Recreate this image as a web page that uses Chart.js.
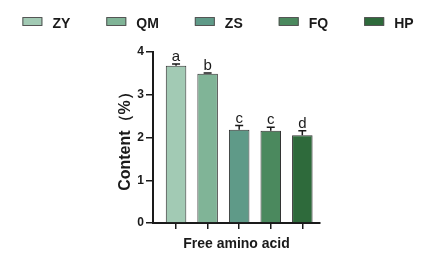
<!DOCTYPE html>
<html>
<head>
<meta charset="utf-8">
<script src="https://cdn.jsdelivr.net/npm/chart.js@4.4.1/dist/chart.umd.min.js"></script>
<style>
  html, body { margin: 0; padding: 0; background: #fff; }
</style>
</head>
<body>
<canvas id="chart" width="438" height="260"></canvas>
<script>
const groups = ["ZY", "QM", "ZS", "FQ", "HP"];
const contents = [3.68, 3.49, 2.18, 2.16, 2.05];
const errors = [0.04, 0.02, 0.10, 0.08, 0.11];
const letters = ["a", "b", "c", "c", "d"];
const colors = ["#a2cab4", "#80b497", "#5f9a88", "#4b895e", "#2e6a3b"];
const yTicks = [0, 1, 2, 3, 4];

const FONT = "'Liberation Sans', Arial, sans-serif";
const INK = "#1a1a1a";
Chart.defaults.font.family = FONT;
Chart.defaults.color = INK;

// error bars, significance letters and the legend row
const extras = {
    id: "extras",
    afterDatasetsDraw(chart) {
        const ctx = chart.ctx;
        const y = chart.scales.y;
        const bars = chart.getDatasetMeta(0).data;
        ctx.save();
        ctx.strokeStyle = INK;
        ctx.fillStyle = INK;
        ctx.lineWidth = 1.5;
        ctx.font = "15px " + FONT;
        ctx.textAlign = "center";
        ctx.textBaseline = "alphabetic";
        bars.forEach((bar, i) => {
            const base = y.getPixelForValue(contents[i]);
            const top = y.getPixelForValue(contents[i] + errors[i]);
            ctx.beginPath();
            ctx.moveTo(bar.x, base);
            ctx.lineTo(bar.x, top);
            ctx.moveTo(bar.x - 4, top);
            ctx.lineTo(bar.x + 4, top);
            ctx.stroke();
            ctx.fillText(letters[i], bar.x, top - 3);
        });
        ctx.restore();
    },
    afterDraw(chart) {
        const ctx = chart.ctx;
        const boxW = 20, boxH = 8, gap = 10, spacing = 36;
        ctx.save();
        ctx.font = "bold 14px " + FONT;
        const widths = groups.map(g => ctx.measureText(g).width);
        const total = widths.reduce((s, w) => s + boxW + gap + w, 0) + spacing * (groups.length - 1);
        let x = (chart.width - total) / 2 - 1;
        ctx.textBaseline = "alphabetic";
        ctx.textAlign = "left";
        groups.forEach((g, i) => {
            ctx.fillStyle = colors[i];
            ctx.fillRect(x, 17.5, boxW, boxH);
            ctx.strokeStyle = "#555";
            ctx.lineWidth = 1;
            ctx.strokeRect(x + 0.5, 17.5, boxW - 1, boxH);
            ctx.fillStyle = INK;
            ctx.fillText(g, x + boxW + gap, 28);
            x += boxW + gap + widths[i] + spacing;
        });
        ctx.restore();
    }
};

new Chart(document.getElementById("chart"), {
    type: "bar",
    data: {
        datasets: [{
            label: "Free amino acid",
            data: groups.map((g, i) => ({ x: i, y: contents[i] })),
            backgroundColor: colors,
            borderColor: "#333",
            borderWidth: 1,
            barPercentage: 0.65,
            categoryPercentage: 1
        }]
    },
    options: {
        responsive: false,
        animation: false,
        layout: { padding: { left: 112.4, right: 118, top: 52, bottom: 7.6 } },
        plugins: {
            legend: { display: false },
            tooltip: { enabled: false }
        },
        scales: {
            x: {
                type: "linear",
                offset: false,
                min: -0.73,
                max: 4.56,
                afterBuildTicks: s => { s.ticks = groups.map((g, i) => ({ value: i })); },
                afterFit: s => { s.height = 29.4; },
                ticks: { display: false },
                grid: { offset: false, drawOnChartArea: false, drawTicks: true, tickLength: 6, color: INK, lineWidth: 1.5 },
                border: { color: INK, width: 2 },
                title: {
                    display: true,
                    text: "Free amino acid",
                    font: { size: 14, weight: "bold" },
                    padding: { top: 0, bottom: 0 }
                }
            },
            y: {
                min: 0,
                max: 4,
                afterBuildTicks: s => { s.ticks = yTicks.map(v => ({ value: v })); },
                afterFit: s => { s.width = 40.6; },
                ticks: { font: { size: 12, weight: "bold" }, padding: 2 },
                grid: { drawOnChartArea: false, drawTicks: true, tickLength: 7, color: INK, lineWidth: 1.5 },
                border: { color: INK, width: 2 },
                title: {
                    display: true,
                    text: "Content（%）",
                    font: { size: 16, weight: "bold" },
                    padding: { top: 4, bottom: 0 }
                }
            }
        }
    },
    plugins: [extras]
});
</script>
</body>
</html>
